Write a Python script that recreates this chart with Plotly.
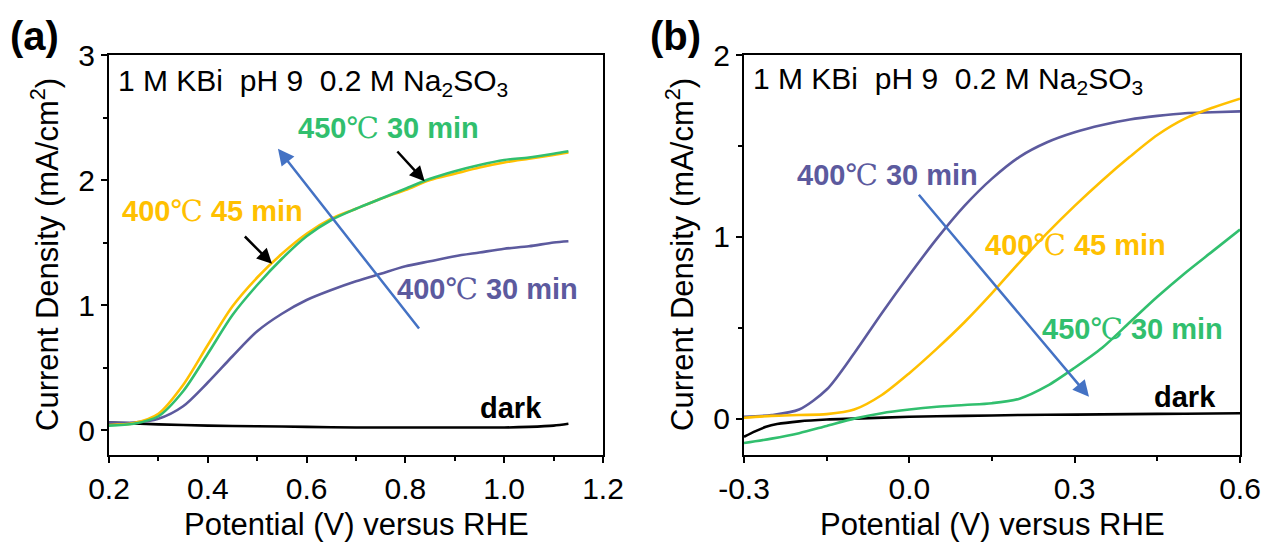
import plotly.graph_objects as go

# ---------------- data: panel (a) ----------------
xa = [0.2, 0.25, 0.3, 0.35, 0.4, 0.45, 0.5, 0.55, 0.6, 0.65, 0.7, 0.75, 0.8, 0.85, 0.9, 0.95, 1.0, 1.05, 1.1, 1.13]
a_450_30 = [0.035, 0.05, 0.11, 0.31, 0.61, 0.92, 1.16, 1.37, 1.55, 1.68, 1.77, 1.85, 1.93, 2.01, 2.07, 2.12, 2.16, 2.18, 2.21, 2.23]
a_400_45 = [0.04, 0.055, 0.13, 0.36, 0.68, 0.99, 1.22, 1.41, 1.57, 1.69, 1.77, 1.85, 1.92, 2.00, 2.05, 2.10, 2.14, 2.17, 2.20, 2.22]
a_400_30 = [0.06, 0.06, 0.09, 0.19, 0.38, 0.59, 0.79, 0.93, 1.04, 1.12, 1.19, 1.25, 1.31, 1.35, 1.39, 1.42, 1.45, 1.47, 1.50, 1.51]
xa_dark = [0.2, 0.3, 0.4, 0.5, 0.6, 0.7, 0.8, 0.9, 1.0, 1.05, 1.1, 1.13]
a_dark = [0.06, 0.045, 0.035, 0.03, 0.025, 0.02, 0.02, 0.02, 0.02, 0.025, 0.035, 0.05]

# ---------------- data: panel (b) ----------------
xb = [-0.3, -0.25, -0.2, -0.15, -0.1, -0.05, 0.0, 0.05, 0.1, 0.15, 0.2, 0.25, 0.3, 0.35, 0.4, 0.45, 0.5, 0.55, 0.6]
b_400_30 = [0.01, 0.02, 0.05, 0.16, 0.36, 0.58, 0.79, 0.99, 1.17, 1.32, 1.44, 1.52, 1.575, 1.615, 1.645, 1.665, 1.68, 1.685, 1.69]
b_400_45 = [0.005, 0.015, 0.02, 0.025, 0.05, 0.13, 0.25, 0.385, 0.53, 0.69, 0.86, 1.02, 1.17, 1.31, 1.44, 1.56, 1.65, 1.71, 1.76]
b_450_30 = [-0.134, -0.11, -0.08, -0.04, 0.0, 0.03, 0.05, 0.065, 0.075, 0.085, 0.11, 0.18, 0.28, 0.39, 0.53, 0.67, 0.80, 0.92, 1.04]
xb_dark = [-0.3, -0.28, -0.26, -0.24, -0.2, -0.15, -0.1, 0.0, 0.1, 0.2, 0.3, 0.4, 0.5, 0.6]
b_dark = [-0.10, -0.07, -0.045, -0.03, -0.015, -0.005, 0.0, 0.01, 0.015, 0.02, 0.022, 0.025, 0.027, 0.03]

# tick labels
a_xticks = [0.2, 0.4, 0.6, 0.8, 1.0, 1.2]
a_xtext = ["0.2", "0.4", "0.6", "0.8", "1.0", "1.2"]
a_yticks = [0, 1, 2, 3]
b_xticks = [-0.3, 0.0, 0.3, 0.6]
b_xtext = ["-0.3", "0.0", "0.3", "0.6"]
b_yticks = [0, 1, 2]

GREEN = "#31BF6E"
YELLOW = "#FFC000"
PURPLE = "#5C5A9E"
BLUE = "#4472C4"
FONT = "Arial, Liberation Sans, sans-serif"

# the page body has an 8px margin: offset the figure so it fills the visible window
OFF = 8
W, H = 1269 - OFF, 546 - OFF
def px(x):
    return (x - OFF) / W
def py(y):
    return 1 - (y - OFF) / H

fig = go.Figure()

def line(x, y, color, xa_, ya_):
    fig.add_trace(go.Scatter(x=x, y=y, mode="lines", line=dict(color=color, width=2.6, shape="spline", smoothing=0.8),
                             xaxis=xa_, yaxis=ya_, showlegend=False, hoverinfo="skip"))

line(xa_dark, a_dark, "black", "x", "y")
line(xa, a_400_30, PURPLE, "x", "y")
line(xa, a_400_45, YELLOW, "x", "y")
line(xa, a_450_30, GREEN, "x", "y")

line(xb_dark, b_dark, "black", "x2", "y2")
line(xb, b_400_30, PURPLE, "x2", "y2")
line(xb, b_400_45, YELLOW, "x2", "y2")
line(xb, b_450_30, GREEN, "x2", "y2")

axis_common = dict(showline=True, linecolor="black", linewidth=2, mirror=True, ticks="outside",
                   ticklen=6, tickwidth=2, tickcolor="black", showgrid=False, zeroline=False,
                   automargin=False, ticklabeloverflow="allow",
                   tickfont=dict(family=FONT, size=30, color="black"))
minor_common = dict(ticks="outside", ticklen=4, tickwidth=2, tickcolor="black")

ydom = [py(455), py(55)]
fig.update_layout(
    width=W, height=H, margin=dict(l=0, r=0, t=0, b=0, autoexpand=False),
    paper_bgcolor="white", plot_bgcolor="white",
    xaxis=dict(domain=[px(109), px(603)], range=[0.2, 1.2], tickvals=a_xticks, ticktext=a_xtext,
               minor=dict(dtick=0.1, tick0=0.2, **minor_common), anchor="y", **axis_common),
    yaxis=dict(domain=ydom, range=[-0.2, 3], tickvals=a_yticks,
               minor=dict(dtick=0.5, tick0=0, **minor_common), anchor="x", **axis_common),
    xaxis2=dict(domain=[px(744), px(1240)], range=[-0.3, 0.6], tickvals=b_xticks, ticktext=b_xtext,
                minor=dict(dtick=0.15, tick0=-0.3, **minor_common), anchor="y2", **axis_common),
    yaxis2=dict(domain=ydom, range=[-0.2, 2], tickvals=b_yticks,
                minor=dict(dtick=0.5, tick0=0, **minor_common), anchor="x2", **axis_common),
)

ann = []
def text(x, y, s, xref, yref, size, color="black", xanchor="left", **kw):
    ann.append(dict(x=x, y=y, xref=xref, yref=yref, text=s, showarrow=False, xanchor=xanchor,
                    yanchor="middle", font=dict(family=FONT, size=size, color=color), **kw))

def arrow(tail, tip, xref, yref, color, width, size):
    ann.append(dict(x=tip[0], y=tip[1], ax=tail[0], ay=tail[1], xref=xref, yref=yref, axref=xref, ayref=yref,
                    text="", showarrow=True, arrowhead=2, arrowsize=size, arrowwidth=width, arrowcolor=color))

cond = "1 M KBi  pH 9  0.2 M Na<sub>2</sub>SO<sub>3</sub>"
deg = "<span style='font-weight:normal;font-family:DejaVu Serif'>℃</span>"
LS = 29

# panel (a)
text(0.214, 2.78, cond, "x", "y", 30)
text(0.578, 2.42, f"<b>450</b>{deg} <b>30 min</b>", "x", "y", LS, GREEN)
text(0.222, 1.75, f"<b>400</b>{deg} <b>45 min</b>", "x", "y", LS, YELLOW)
text(0.779, 1.13, f"<b>400</b>{deg} <b>30 min</b>", "x", "y", LS, PURPLE)
text(0.946, 0.18, "<b>dark</b>", "x", "y", LS)
arrow((0.83, 0.80), (0.542, 2.25), "x", "y", BLUE, 2.5, 1.3)
arrow((0.472, 1.56), (0.53, 1.33), "x", "y", "black", 2.5, 1.2)
arrow((0.781, 2.24), (0.839, 1.99), "x", "y", "black", 2.5, 1.2)

# panel (b)
text(-0.288, 1.86, cond, "x2", "y2", 30)
text(-0.208, 1.34, f"<b>400</b>{deg} <b>30 min</b>", "x2", "y2", LS, PURPLE)
text(0.133, 0.955, f"<b>400</b>{deg} <b>45 min</b>", "x2", "y2", LS, YELLOW)
text(0.237, 0.495, f"<b>450</b>{deg} <b>30 min</b>", "x2", "y2", LS, GREEN)
text(0.440, 0.12, "<b>dark</b>", "x2", "y2", LS)
arrow((0.015, 1.24), (0.326, 0.12), "x2", "y2", BLUE, 2.5, 1.3)

# axis titles and panel labels
for xc in [356, 992]:
    text(px(xc), py(524), "Potential (V) versus RHE", "paper", "paper", 31, xanchor="center")
for xc in [45, 680]:
    text(px(xc), py(255), "Current Density (mA/cm<sup>2</sup>)", "paper", "paper", 31, xanchor="center",
         textangle=-90)
text(px(8), py(36), "<b>(a)</b>", "paper", "paper", 40)
text(px(648), py(36), "<b>(b)</b>", "paper", "paper", 40)

fig.update_layout(annotations=ann)
fig.write_html("out.html")
